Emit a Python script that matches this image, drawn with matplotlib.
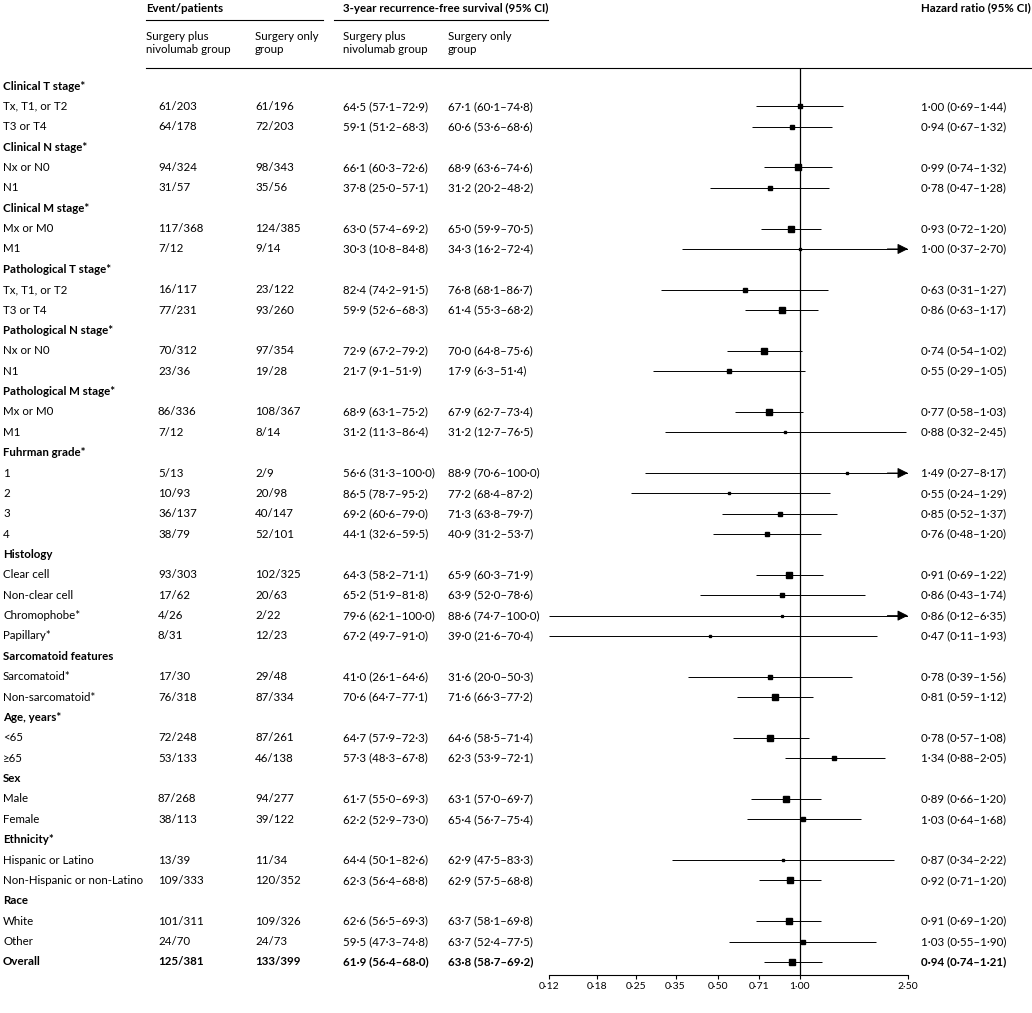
import numpy as np
import matplotlib.pyplot as plt
from matplotlib.ticker import FixedLocator, NullLocator

plt.rcParams['font.family'] = ['Lato', 'DejaVu Sans']

# None in ev1 marks a subgroup heading
labels = ['Clinical T stage*', 'Tx, T1, or T2', 'T3 or T4',
          'Clinical N stage*', 'Nx or N0', 'N1',
          'Clinical M stage*', 'Mx or M0', 'M1',
          'Pathological T stage*', 'Tx, T1, or T2', 'T3 or T4',
          'Pathological N stage*', 'Nx or N0', 'N1',
          'Pathological M stage*', 'Mx or M0', 'M1',
          'Fuhrman grade*', '1', '2', '3', '4',
          'Histology', 'Clear cell', 'Non-clear cell', 'Chromophobe*', 'Papillary*',
          'Sarcomatoid features', 'Sarcomatoid*', 'Non-sarcomatoid*',
          'Age, years*', '<65', '≥65',
          'Sex', 'Male', 'Female',
          'Ethnicity*', 'Hispanic or Latino', 'Non-Hispanic or non-Latino',
          'Race', 'White', 'Other',
          'Overall']
ev1 = [None, '61/203', '64/178', None, '94/324', '31/57', None, '117/368', '7/12',
       None, '16/117', '77/231', None, '70/312', '23/36', None, '86/336', '7/12',
       None, '5/13', '10/93', '36/137', '38/79', None, '93/303', '17/62', '4/26', '8/31',
       None, '17/30', '76/318', None, '72/248', '53/133', None, '87/268', '38/113',
       None, '13/39', '109/333', None, '101/311', '24/70', '125/381']
ev2 = [None, '61/196', '72/203', None, '98/343', '35/56', None, '124/385', '9/14',
       None, '23/122', '93/260', None, '97/354', '19/28', None, '108/367', '8/14',
       None, '2/9', '20/98', '40/147', '52/101', None, '102/325', '20/63', '2/22', '12/23',
       None, '29/48', '87/334', None, '87/261', '46/138', None, '94/277', '39/122',
       None, '11/34', '120/352', None, '109/326', '24/73', '133/399']
rfs1 = [None, '64·5 (57·1–72·9)', '59·1 (51·2–68·3)', None, '66·1 (60·3–72·6)', '37·8 (25·0–57·1)',
        None, '63·0 (57·4–69·2)', '30·3 (10·8–84·8)', None, '82·4 (74·2–91·5)', '59·9 (52·6–68·3)',
        None, '72·9 (67·2–79·2)', '21·7 (9·1–51·9)', None, '68·9 (63·1–75·2)', '31·2 (11·3–86·4)',
        None, '56·6 (31·3–100·0)', '86·5 (78·7–95·2)', '69·2 (60·6–79·0)', '44·1 (32·6–59·5)',
        None, '64·3 (58·2–71·1)', '65·2 (51·9–81·8)', '79·6 (62·1–100·0)', '67·2 (49·7–91·0)',
        None, '41·0 (26·1–64·6)', '70·6 (64·7–77·1)', None, '64·7 (57·9–72·3)', '57·3 (48·3–67·8)',
        None, '61·7 (55·0–69·3)', '62·2 (52·9–73·0)', None, '64·4 (50·1–82·6)', '62·3 (56·4–68·8)',
        None, '62·6 (56·5–69·3)', '59·5 (47·3–74·8)', '61·9 (56·4–68·0)']
rfs2 = [None, '67·1 (60·1–74·8)', '60·6 (53·6–68·6)', None, '68·9 (63·6–74·6)', '31·2 (20·2–48·2)',
        None, '65·0 (59·9–70·5)', '34·3 (16·2–72·4)', None, '76·8 (68·1–86·7)', '61·4 (55·3–68·2)',
        None, '70·0 (64·8–75·6)', '17·9 (6·3–51·4)', None, '67·9 (62·7–73·4)', '31·2 (12·7–76·5)',
        None, '88·9 (70·6–100·0)', '77·2 (68·4–87·2)', '71·3 (63·8–79·7)', '40·9 (31·2–53·7)',
        None, '65·9 (60·3–71·9)', '63·9 (52·0–78·6)', '88·6 (74·7–100·0)', '39·0 (21·6–70·4)',
        None, '31·6 (20·0–50·3)', '71·6 (66·3–77·2)', None, '64·6 (58·5–71·4)', '62·3 (53·9–72·1)',
        None, '63·1 (57·0–69·7)', '65·4 (56·7–75·4)', None, '62·9 (47·5–83·3)', '62·9 (57·5–68·8)',
        None, '63·7 (58·1–69·8)', '63·7 (52·4–77·5)', '63·8 (58·7–69·2)']
hr = [None, 1.00, 0.94, None, 0.99, 0.78, None, 0.93, 1.00, None, 0.63, 0.86,
      None, 0.74, 0.55, None, 0.77, 0.88, None, 1.49, 0.55, 0.85, 0.76,
      None, 0.91, 0.86, 0.86, 0.47, None, 0.78, 0.81, None, 0.78, 1.34,
      None, 0.89, 1.03, None, 0.87, 0.92, None, 0.91, 1.03, 0.94]
lo = [None, 0.69, 0.67, None, 0.74, 0.47, None, 0.72, 0.37, None, 0.31, 0.63,
      None, 0.54, 0.29, None, 0.58, 0.32, None, 0.27, 0.24, 0.52, 0.48,
      None, 0.69, 0.43, 0.12, 0.11, None, 0.39, 0.59, None, 0.57, 0.88,
      None, 0.66, 0.64, None, 0.34, 0.71, None, 0.69, 0.55, 0.74]
hi = [None, 1.44, 1.32, None, 1.32, 1.28, None, 1.20, 2.70, None, 1.27, 1.17,
      None, 1.02, 1.05, None, 1.03, 2.45, None, 8.17, 1.29, 1.37, 1.20,
      None, 1.22, 1.74, 6.35, 1.93, None, 1.56, 1.12, None, 1.08, 2.05,
      None, 1.20, 1.68, None, 2.22, 1.20, None, 1.20, 1.90, 1.21]
xticks = [0.12, 0.18, 0.25, 0.35, 0.50, 0.71, 1.00, 2.50]

W, H = 1032, 1013
fig = plt.figure(figsize=(W / 100, H / 100), dpi=100)
bg = fig.add_axes([0, 0, 1, 1])
bg.set_xlim(0, W)
bg.set_ylim(H, 0)
bg.axis('off')

fs = 8.3
y0, dy = 86, 20.37

# header
bg.text(146, 8, 'Event/patients', fontsize=fs, fontweight='bold', va='center')
bg.text(343, 8, '3-year recurrence-free survival (95% CI)', fontsize=fs, fontweight='bold', va='center')
bg.text(921, 8, 'Hazard ratio (95% CI)', fontsize=fs, fontweight='bold', va='center')
bg.plot([146, 323], [20, 20], color='black', lw=0.8)
bg.plot([334, 548], [20, 20], color='black', lw=0.8)
for x, t in [(146, 'Surgery plus\nnivolumab group'), (255, 'Surgery only\ngroup'),
             (343, 'Surgery plus\nnivolumab group'), (448, 'Surgery only\ngroup')]:
    bg.text(x, 43, t, fontsize=fs, va='center', linespacing=1.3)
bg.plot([146, W], [68, 68], color='black', lw=0.8)

for i, lab in enumerate(labels):
    y = y0 + dy * i
    head = ev1[i] is None
    bold = head or lab == 'Overall'
    w = 'bold' if bold else 'normal'
    bg.text(3, y, lab, fontsize=fs, fontweight=w, va='center')
    if head:
        continue
    bg.text(158, y, ev1[i], fontsize=fs, fontweight=w, va='center')
    bg.text(255, y, ev2[i], fontsize=fs, fontweight=w, va='center')
    bg.text(343, y, rfs1[i], fontsize=fs, fontweight=w, va='center')
    bg.text(448, y, rfs2[i], fontsize=fs, fontweight=w, va='center')
    hrtxt = f'{hr[i]:.2f} ({lo[i]:.2f}–{hi[i]:.2f})'.replace('.', '·')
    bg.text(921, y, hrtxt, fontsize=fs, fontweight=w, va='center')

# forest panel
xl, xr, yt, yb = 549, 908, 68, 975
ax = fig.add_axes([xl / W, 1 - yb / H, (xr - xl) / W, (yb - yt) / H])
ax.set_xscale('log')
ax.set_xlim(0.12, 2.5)
ax.set_ylim((yb - y0) / dy, (yt - y0) / dy)
ax.patch.set_alpha(0)
for s in ['top', 'right', 'left']:
    ax.spines[s].set_visible(False)
ax.spines['bottom'].set_linewidth(0.8)
ax.yaxis.set_major_locator(NullLocator())
ax.xaxis.set_major_locator(FixedLocator(xticks))
ax.xaxis.set_minor_locator(NullLocator())
ax.set_xticklabels([f'{t:.2f}'.replace('.', '·') for t in xticks], fontsize=7.5)
ax.tick_params(axis='x', length=3, width=0.8, pad=2)
ax.axvline(1.0, color='black', lw=0.9)

for i in range(len(labels)):
    if hr[i] is None:
        continue
    a, b = max(lo[i], 0.12), min(hi[i], 2.5)
    ax.plot([a, b], [i, i], color='black', lw=0.7, solid_capstyle='butt')
    if hi[i] > 2.5:
        ax.annotate('', xy=(2.5, i), xytext=(2.1, i),
                    arrowprops=dict(arrowstyle='-|>', color='black', lw=0.7,
                                    mutation_scale=16, shrinkA=0, shrinkB=0))
    n = sum(int(e.split('/')[0]) for e in (ev1[i], ev2[i]))
    ms = 0.8 + 3.8 * np.sqrt(n / 258)
    ax.plot(hr[i], i, 's', color='black', ms=ms, clip_on=False)

fig.savefig('out.png', dpi=100)
